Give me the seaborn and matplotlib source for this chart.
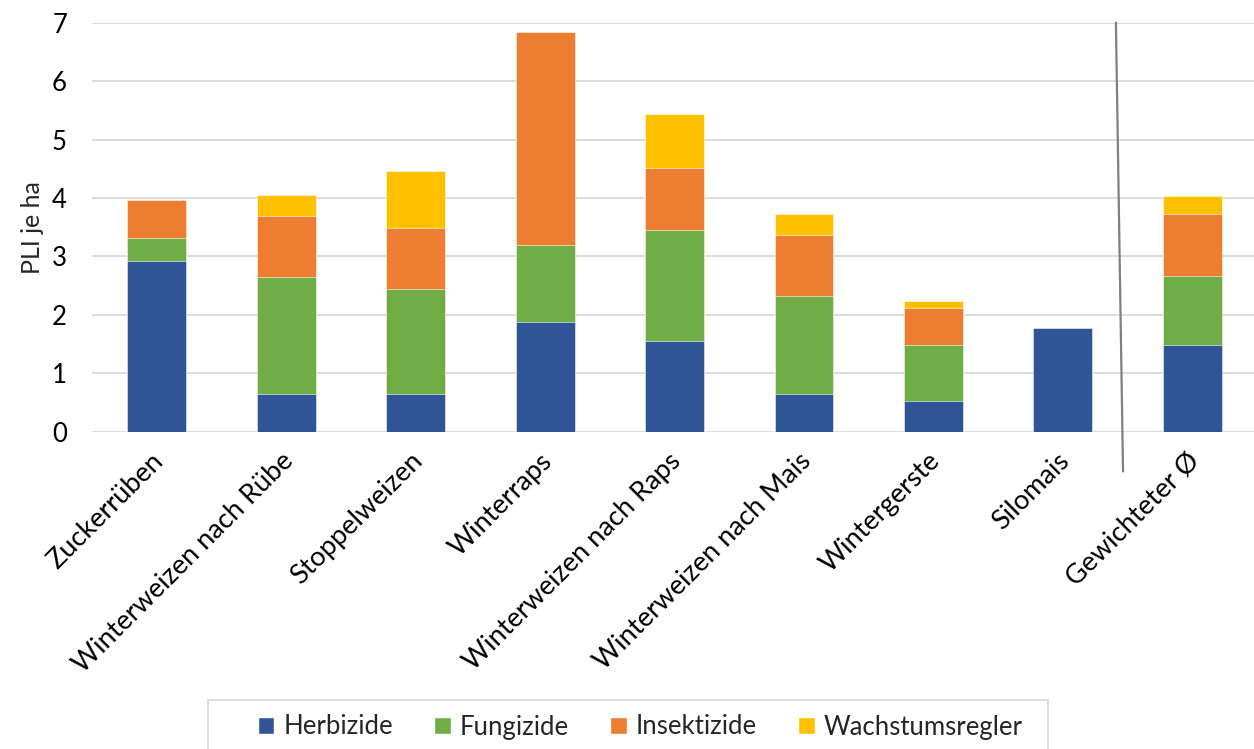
import numpy as np
import pandas as pd
import matplotlib.pyplot as plt
import matplotlib.transforms as mtrans
import seaborn as sns
from matplotlib.patches import Patch, Rectangle
from matplotlib.lines import Line2D

kulturen = ['Zuckerrüben', 'Winterweizen nach Rübe', 'Stoppelweizen', 'Winterraps',
            'Winterweizen nach Raps', 'Winterweizen nach Mais', 'Wintergerste',
            'Silomais', 'Gewichteter Ø']
herbizide = [2.93, 0.65, 0.65, 1.88, 1.56, 0.65, 0.53, 1.77, 1.49]
fungizide = [0.39, 1.99, 1.79, 1.32, 1.90, 1.67, 0.95, 0.00, 1.18]
insektizide = [0.65, 1.06, 1.05, 3.64, 1.05, 1.05, 0.64, 0.00, 1.06]
wachstumsregler = [0.00, 0.35, 0.97, 0.00, 0.93, 0.36, 0.12, 0.00, 0.30]

gruppen = ['Herbizide', 'Fungizide', 'Insektizide', 'Wachstumsregler']
farben = ['#2F5597', '#70AD47', '#ED7D31', '#FFC000']

df = pd.DataFrame({'Kultur': kulturen, 'Herbizide': herbizide, 'Fungizide': fungizide,
                   'Insektizide': insektizide, 'Wachstumsregler': wachstumsregler})

sns.set_theme(style='white')
plt.rcParams['font.family'] = ['Lato', 'DejaVu Sans']

fig = plt.figure(figsize=(12.54, 7.49), dpi=100)
ax = fig.add_axes([0.0734, 0.4236, 0.929, 0.5461])

# gestapelt: kumulierte Summen von oben nach unten zeichnen
kum = df[gruppen].cumsum(axis=1)
for g, c in reversed(list(zip(gruppen, farben))):
    sns.barplot(x=df['Kultur'], y=kum[g], color=c, width=0.455, saturation=1,
                edgecolor='white', linewidth=0.4, ax=ax)

ax.set_ylim(0, 7)
ax.set_xlim(-0.5, 8.5)
ax.set_yticks(range(8))
ax.yaxis.grid(True, color='#d9d9d9', linewidth=1.3)
ax.set_axisbelow(True)
for s in ax.spines.values():
    s.set_visible(False)
ax.tick_params(axis='y', labelsize=18.5, pad=18, length=0, colors='black')
ax.tick_params(axis='x', labelsize=19.5, pad=12, length=0, colors='black')
ax.set_xlabel('')
ax.set_ylabel('PLI je ha', fontsize=18, labelpad=6)
verschiebung = mtrans.ScaledTranslation(-6 / 100, 0, fig.dpi_scale_trans)
for lbl in ax.get_xticklabels():
    lbl.set_rotation(45)
    lbl.set_ha('right')
    lbl.set_rotation_mode('anchor')
    lbl.set_transform(lbl.get_transform() + verschiebung)

# Trennlinie vor dem Durchschnitt
ax.add_line(Line2D([7.41, 7.465], [7, -0.68], color='#808080', lw=1.6, clip_on=False))

handles = [Patch(facecolor=c, label=g) for g, c in zip(gruppen, farben)]
fig.legend(handles=handles, loc='center', bbox_to_anchor=(640 / 1254, 1 - 727 / 749),
           ncol=4, fontsize=18.5, frameon=False,
           handlelength=0.65, handleheight=0.65, handletextpad=0.35, columnspacing=1.6,
           borderpad=0, borderaxespad=0)
fig.add_artist(Rectangle((208 / 1254, -0.02), 840 / 1254, 49 / 749 + 0.02,
                         transform=fig.transFigure, facecolor='none',
                         edgecolor='#d9d9d9', linewidth=1.2))

plt.savefig('out.png', dpi=100)
